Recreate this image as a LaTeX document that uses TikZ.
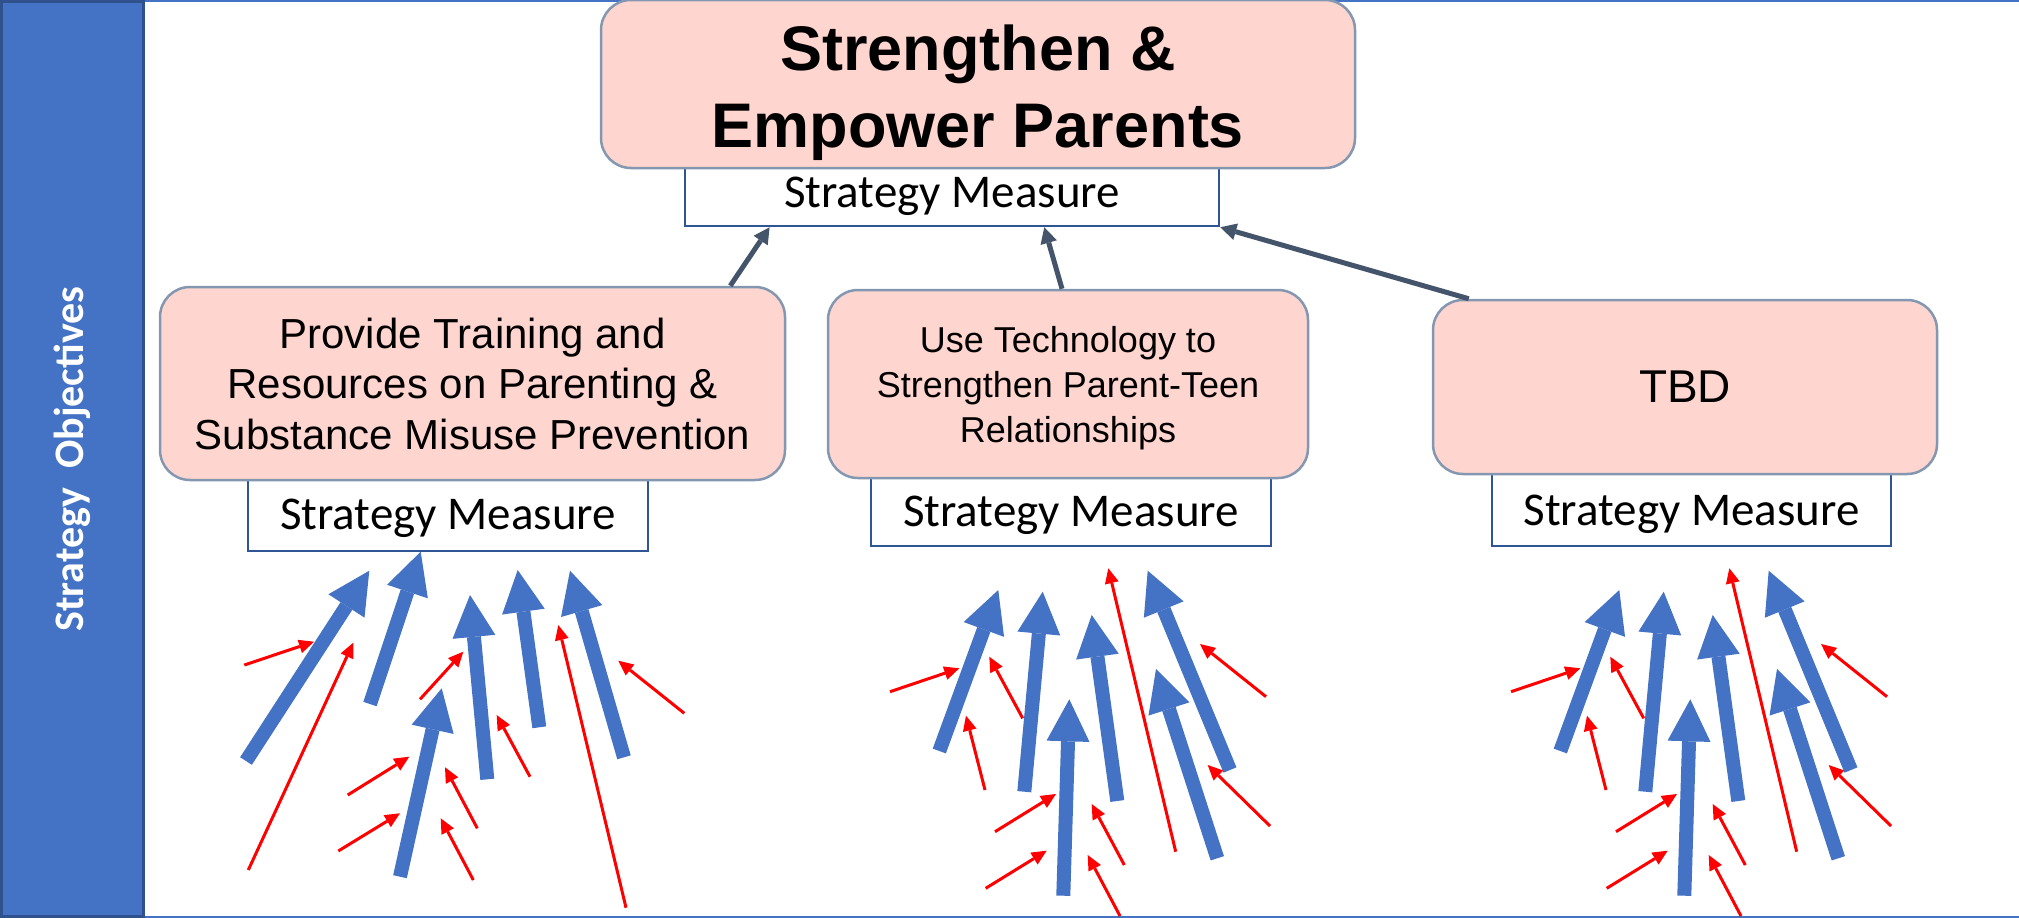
\documentclass[tikz,border=0pt]{standalone}
\usepackage{fontspec}
\setmainfont{Liberation Sans}
\newfontfamily\calibrifont{Carlito}
\usetikzlibrary{arrows.meta,calc}
\definecolor{barblue}{HTML}{4472C4}
\definecolor{bardark}{HTML}{2F528F}
\definecolor{pinkfill}{HTML}{FFD5CF}
\definecolor{pinkedge}{HTML}{8497B0}
\definecolor{measedge}{HTML}{2F5597}
\definecolor{linkcol}{HTML}{44546A}
\definecolor{redarrow}{HTML}{FF0000}
\begin{document}
\begin{tikzpicture}[x=1pt,y=-1pt,
  sidebar/.style={draw=bardark,fill=barblue,line width=2.5pt,inner sep=0pt,text=white,
    font=\calibrifont\bfseries\fontsize{42}{50}\selectfont},
  objbox/.style={draw=pinkedge,fill=pinkfill,line width=2.5pt,rounded corners=30pt,align=center,inner sep=0pt},
  measbox/.style={draw=measedge,fill=white,line width=2.5pt,inner sep=0pt,
    font=\calibrifont\fontsize{47}{56}\selectfont},
  link/.style={draw=linkcol,line width=5pt,-{Triangle[width=17pt,length=16pt,line width=0pt]}},
  bigarrow/.style={draw=barblue,line width=14pt,-{Triangle[width=43pt,length=42pt,line width=0pt]}},
  smallarrow/.style={draw=redarrow,line width=3pt,-{Triangle[width=14pt,length=15pt,line width=0pt]}},
  frameline/.style={draw=barblue,line width=2pt}
]
\useasboundingbox (0,0) rectangle (2019,918);

% frame
\draw[frameline] (144,1) -- (2019,1);
\draw[frameline] (144,917) -- (2019,917);

% side bar
\node[sidebar,rotate=90,minimum width=915pt,minimum height=142pt] (bar) at (72.5,459) {Strategy\ \ Objectives};

% measure boxes (behind)
\node[measbox,minimum width=534pt,minimum height=58pt,text height=30pt,text depth=10pt] (m0) at (952,197) {Strategy Measure};
\node[measbox,minimum width=400pt,minimum height=71pt,text height=34pt,text depth=6pt] (m1) at (448,515.5) {Strategy Measure};
\node[measbox,minimum width=400pt,minimum height=68pt,text height=34pt,text depth=6pt] (m2) at (1071,512) {Strategy Measure};
\node[measbox,minimum width=399pt,minimum height=72pt,text height=34pt,text depth=4pt] (m3) at (1691.5,510) {Strategy Measure};

% objective boxes
\node[objbox,minimum width=754pt,minimum height=168pt,font=\bfseries\fontsize{63}{77}\selectfont] (top) at (978,84)
  {\rule{0pt}{63pt}Strengthen \&\\Empower Parents};
\node[objbox,minimum width=625pt,minimum height=193pt,font=\fontsize{42}{50.5}\selectfont] (b1) at (472.5,383.5)
  {Provide Training and\\Resources on Parenting \&\\Substance Misuse Prevention};
\node[objbox,minimum width=480pt,minimum height=188pt,font=\fontsize{36}{45}\selectfont] (b2) at (1068,384)
  {\rule{0pt}{35pt}Use Technology to\\Strengthen Parent-Teen\\Relationships};
\node[objbox,minimum width=504pt,minimum height=174pt,font=\fontsize{46}{55}\selectfont] (b3) at (1685,387) {TBD};

% connectors
\draw[link] ([xshift=-56pt]b1.north east) -- ($(m0.south west)!0.16!(m0.south east)$);
\draw[link] ([xshift=-6pt]b2.north) -- ($(m0.south west)!0.672!(m0.south east)$);
\draw[link] ([xshift=37pt]b3.north west) -- (m0.south east);

% cluster 1
\draw[bigarrow] (246,761) -- (369.3,570.7);
\draw[bigarrow] (370,704) -- (420.7,551.7);
\draw[bigarrow] (400,876.7) -- (441.7,688.3);
\draw[bigarrow] (487.3,779.3) -- (470,595);
\draw[bigarrow] (539.3,727.3) -- (517.7,570);
\draw[bigarrow] (624,757.3) -- (570,570.7);
\draw[smallarrow] (244.3,665) -- (314,641.7);
\draw[smallarrow] (248.3,870) -- (353.3,642.7);
\draw[smallarrow] (420,699.3) -- (463.3,651.7);
\draw[smallarrow] (347.7,795) -- (409.3,756.7);
\draw[smallarrow] (338.3,851) -- (400,813.3);
\draw[smallarrow] (477.3,828.3) -- (445,767.3);
\draw[smallarrow] (473.3,880) -- (440.7,818.3);
\draw[smallarrow] (530,776.7) -- (496.7,715);
\draw[smallarrow] (626,907.7) -- (558.3,625);
\draw[smallarrow] (684.3,713.3) -- (618.3,660.7);

% clusters 2 and 3
\foreach \dx in {0,621}{
\begin{scope}[xshift=\dx pt]
\draw[bigarrow] (939.3,751) -- (998.3,590);
\draw[bigarrow] (1024.3,791.7) -- (1042.7,591.7);
\draw[bigarrow] (1063.3,895.7) -- (1069.3,699.3);
\draw[bigarrow] (1117.3,801) -- (1091.7,615);
\draw[bigarrow] (1230,770) -- (1147.7,570.7);
\draw[bigarrow] (1217.3,858.3) -- (1156,669);
\draw[smallarrow] (890,691.7) -- (959.3,668.3);
\draw[smallarrow] (1022.7,718.3) -- (989.3,656.7);
\draw[smallarrow] (985,790) -- (966,715.7);
\draw[smallarrow] (995,831.7) -- (1056,794);
\draw[smallarrow] (985.7,888.3) -- (1046.7,850.7);
\draw[smallarrow] (1124.3,865) -- (1091.7,804);
\draw[smallarrow] (1120,916) -- (1087.7,855);
\draw[smallarrow] (1175.7,851.7) -- (1108.3,568.3);
\draw[smallarrow] (1266,696.7) -- (1200,644);
\draw[smallarrow] (1270,826) -- (1207.7,765);
\end{scope}
}
\end{tikzpicture}
\end{document}
